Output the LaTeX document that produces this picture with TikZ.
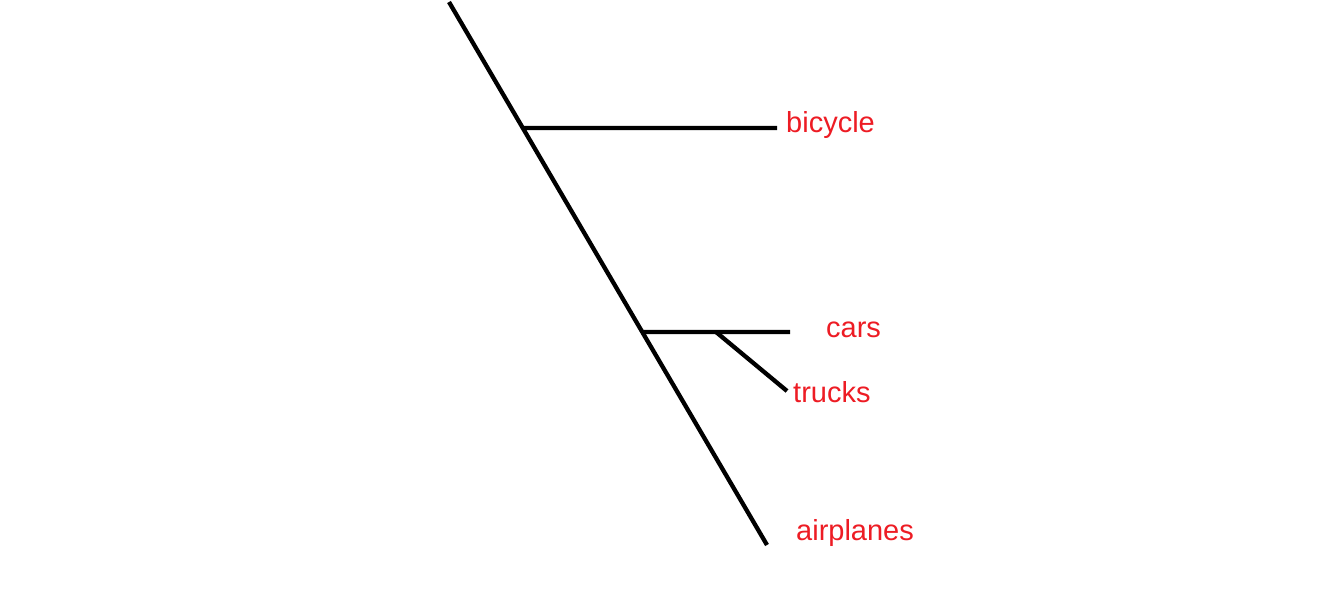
\documentclass[tikz,border=0pt]{standalone}
\usepackage{fontspec}
\setmainfont{Liberation Sans}
\usetikzlibrary{calc}
\definecolor{labelred}{RGB}{237,28,36}
\begin{document}
\begin{tikzpicture}[x=1pt,y=-1pt,
  branch/.style={line width=4.3pt,black},
  leaf/.style={anchor=base west,inner sep=0pt,text=labelred,font=\fontsize{29}{34}\selectfont}]
\useasboundingbox (0,0) rectangle (1338,615);
\coordinate (top) at (449,2);
\coordinate (bottom) at (767,545);
\coordinate (j1) at ($(top)!0.2320!(bottom)$);
\coordinate (j2) at ($(top)!0.6077!(bottom)$);
\coordinate (e1) at (777,128);
\coordinate (e2) at (790,332);
\coordinate (j3) at (716,332);
\coordinate (e3) at (787,391);
\draw[branch] (top) -- (bottom);
\draw[branch] (j1) -- (e1);
\draw[branch] (j2) -- (e2);
\draw[branch] (j3) -- (e3);
\node[leaf] (bicycle) at (786,132.5) {bicycle};
\node[leaf] (cars) at (826,337) {cars};
\node[leaf] (trucks) at (793,402) {trucks};
\node[leaf] (airplanes) at (796,540) {airplanes};
\end{tikzpicture}
\end{document}
